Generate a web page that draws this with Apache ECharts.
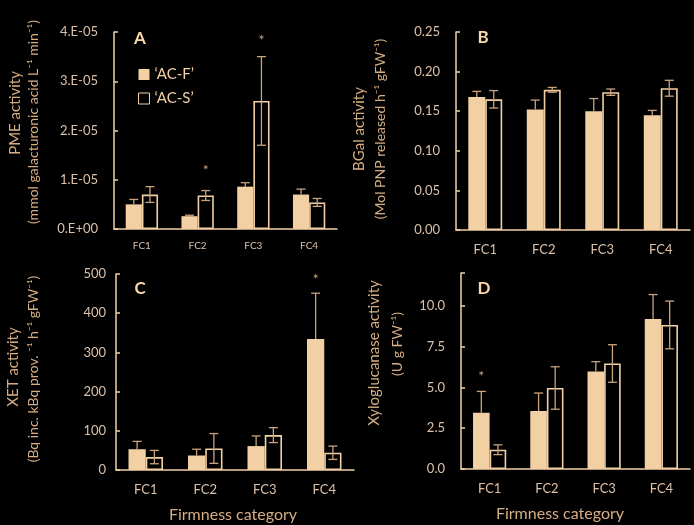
<!DOCTYPE html>
<html>
<head>
<meta charset="utf-8">
<script src="https://cdn.jsdelivr.net/npm/echarts@6/dist/echarts.min.js"></script>
<style>
html,body{margin:0;padding:0;background:#000;}
#c{width:694px;height:525px;}
</style>
</head>
<body>
<div id="c"></div>
<script>
// ---------- data ----------
const categories = ['FC1', 'FC2', 'FC3', 'FC4'];
const seriesNames = ['\u2018AC-F\u2019', '\u2018AC-S\u2019'];

// A: PME activity
const pmeF = [5.0e-6, 2.6e-6, 8.6e-6, 7.0e-6];
const pmeFErr = [1.0e-6, 0.2e-6, 0.8e-6, 1.1e-6];
const pmeS = [7.0e-6, 6.8e-6, 2.6e-5, 5.4e-6];
const pmeSErr = [1.6e-6, 1.0e-6, 0.9e-5, 0.8e-6];
const pmeFStar = [null, null, null, null];
const pmeSStar = [null, 1.19e-5, 3.82e-5, null];

// B: BGal activity
const bgalF = [0.168, 0.152, 0.150, 0.145];
const bgalFErr = [0.007, 0.012, 0.016, 0.006];
const bgalS = [0.165, 0.177, 0.174, 0.179];
const bgalSErr = [0.011, 0.003, 0.004, 0.010];
const bgalFStar = [null, null, null, null];
const bgalSStar = [null, null, null, null];

// C: XET activity
const xetF = [53, 37, 61, 334];
const xetFErr = [20, 16, 26, 117];
const xetS = [33, 55, 89, 44];
const xetSErr = [17, 38, 19, 17];
const xetFStar = [null, null, null, 487];
const xetSStar = [null, null, null, null];

// D: Xyloglucanase activity
const xgF = [3.45, 3.55, 5.97, 9.18];
const xgFErr = [1.3, 1.1, 0.6, 1.5];
const xgS = [1.18, 4.96, 6.46, 8.82];
const xgSErr = [0.3, 1.3, 1.15, 1.46];
const xgFStar = [5.69, null, null, null];
const xgSStar = [null, null, null, null];

// axis ranges
const yRangeA = [0, 4e-5, 1e-5];
const yRangeB = [0, 0.25, 0.05];
const yRangeC = [0, 500, 100];
const yRangeD = [0, 12, 2.5];

// texts
const panelLetters = ['A', 'B', 'C', 'D'];
const yNames = [
  ['PME activity', '(mmol galacturonic acid L\u207B\u00B9 min\u207B\u00B9)'],
  ['BGal activity', '(Mol PNP released h\u207B\u00B9 gFW\u207B\u00B9)'],
  ['XET activity', '(Bq inc. kBq prov. \u207B\u00B9 h\u207B\u00B9 gFW\u207B\u00B9)'],
  ['Xyloglucanase activity', '(U g FW\u207B\u00B9)']
];
const xName = 'Firmness category';

// ---------- styling ----------
const TAN = '#F2D0A4';
const LABEL = '#DCC0A8';
const NAMEC = '#D6AE84';
const ERRC = '#C9A37E';
const FONT = 'Lato, "Open Sans", sans-serif';

const fmtA = v => v === 0 ? '0.E+00' : Math.round(v / 1e-5) + '.E-05';
const fmtB = v => v.toFixed(2);
const fmtC = v => String(Math.round(v));
const fmtD = v => (v > 10.01 ? '' : v.toFixed(1));

const panels = [
  {grid: {left: 114, top: 32, width: 223, height: 197}, yr: yRangeA, fmt: fmtA, xFont: 10, xMargin: 12, yMargin: 16,
   F: pmeF, FE: pmeFErr, FS: pmeFStar, S: pmeS, SE: pmeSErr, SS: pmeSStar},
  {grid: {left: 456, top: 32, width: 234, height: 198}, yr: yRangeB, fmt: fmtB, xFont: 13, xMargin: 13, yMargin: 16,
   F: bgalF, FE: bgalFErr, FS: bgalFStar, S: bgalS, SE: bgalSErr, SS: bgalSStar},
  {grid: {left: 116, top: 274, width: 238, height: 196}, yr: yRangeC, fmt: fmtC, xFont: 13, xMargin: 13, yMargin: 10,
   F: xetF, FE: xetFErr, FS: xetFStar, S: xetS, SE: xetSErr, SS: xetSStar},
  {grid: {left: 461, top: 273, width: 229, height: 196}, yr: yRangeD, fmt: fmtD, xFont: 13, xMargin: 13, yMargin: 16,
   F: xgF, FE: xgFErr, FS: xgFStar, S: xgS, SE: xgSErr, SS: xgSStar}
];

const BAR_FRAC = 0.58; // fraction of category occupied by both bars

function makeErr(sign, full) {
  return function (params, api) {
    const cat = api.value(0), mean = api.value(1), err = api.value(2), star = api.value(3);
    const c = api.coord([cat, mean]);
    const t = api.coord([cat, mean + err]);
    const b = api.coord([cat, mean - err]);
    const bw = api.size([1, 0])[0] * BAR_FRAC / 2;
    const x = c[0] + sign * bw / 2;
    const cap = 4.5;
    const st = {stroke: ERRC, lineWidth: 1.3};
    const ch = [];
    if (err > 0) {
      ch.push({type: 'line', shape: {x1: x, y1: t[1], x2: x, y2: full ? b[1] : c[1]}, style: st});
      ch.push({type: 'line', shape: {x1: x - cap, y1: t[1], x2: x + cap, y2: t[1]}, style: st});
      if (full) ch.push({type: 'line', shape: {x1: x - cap, y1: b[1], x2: x + cap, y2: b[1]}, style: st});
    }
    if (star != null && isFinite(star)) {
      const s = api.coord([cat, star]);
      ch.push({type: 'text', x: x, y: s[1], style: {text: '*', fill: ERRC, font: '14px ' + FONT, align: 'center', verticalAlign: 'middle'}});
    }
    return {type: 'group', children: ch};
  };
}

const grids = [], xAxes = [], yAxes = [], series = [];
panels.forEach((p, i) => {
  grids.push(p.grid);
  xAxes.push({
    type: 'category', gridIndex: i, data: categories,
    axisLine: {lineStyle: {color: TAN, width: 1.5}},
    axisTick: {show: false},
    axisLabel: {color: LABEL, fontSize: p.xFont, fontFamily: FONT, margin: p.xMargin}
  });
  yAxes.push({
    type: 'value', gridIndex: i, min: p.yr[0], max: p.yr[1], interval: p.yr[2],
    axisLine: {show: true, lineStyle: {color: TAN, width: 1.5}},
    axisTick: {show: true, inside: true, length: 4, lineStyle: {color: TAN, width: 1.5}},
    splitLine: {show: false},
    axisLabel: {color: LABEL, fontSize: 13, fontFamily: FONT, margin: p.yMargin, formatter: p.fmt, showMaxLabel: true}
  });
  series.push({
    type: 'bar', name: seriesNames[0], xAxisIndex: i, yAxisIndex: i, data: p.F,
    barGap: '0%', barCategoryGap: '42%',
    itemStyle: {color: TAN}, z: 2, animation: false
  });
  series.push({
    type: 'bar', name: seriesNames[1], xAxisIndex: i, yAxisIndex: i, data: p.S,
    barGap: '0%', barCategoryGap: '42%',
    itemStyle: {color: '#000', borderColor: TAN, borderWidth: 1.6}, z: 2, animation: false
  });
  series.push({
    type: 'custom', xAxisIndex: i, yAxisIndex: i, z: 5, animation: false,
    renderItem: makeErr(-1, false),
    encode: {x: 0, y: 1},
    data: categories.map((c, k) => [k, p.F[k], p.FE[k], p.FS[k] == null ? NaN : p.FS[k]])
  });
  series.push({
    type: 'custom', xAxisIndex: i, yAxisIndex: i, z: 5, animation: false,
    renderItem: makeErr(1, true),
    encode: {x: 0, y: 1},
    data: categories.map((c, k) => [k, p.S[k], p.SE[k], p.SS[k] == null ? NaN : p.SS[k]])
  });
});

// text positions (layout only)
const letterPos = [[140, 39], [483, 38], [140, 289], [484, 289]];
const namePos = [
  [[15, 113], [33, 122]],
  [[359, 129], [380, 129]],
  [[13, 367], [33, 369]],
  [[374, 353], [397, 344]]
];
const xNamePos = [[233, 515], [560, 514]];

const graphics = [];
letterPos.forEach((pos, i) => {
  graphics.push({type: 'text', x: pos[0], y: pos[1],
    style: {text: panelLetters[i], fill: '#F7D8A8', font: 'bold 17px ' + FONT, align: 'center', verticalAlign: 'middle'}});
});
namePos.forEach((pp, i) => {
  pp.forEach((pos, j) => {
    graphics.push({type: 'text', x: pos[0], y: pos[1], rotation: Math.PI / 2,
      style: {text: yNames[i][j], fill: NAMEC, font: (j === 0 ? '15px ' : '14px ') + FONT, align: 'center', verticalAlign: 'middle'}});
  });
});
xNamePos.forEach(pos => {
  graphics.push({type: 'text', x: pos[0], y: pos[1],
    style: {text: xName, fill: NAMEC, font: '16px ' + FONT, align: 'center', verticalAlign: 'middle'}});
});

const chart = echarts.init(document.getElementById('c'), null, {renderer: 'canvas'});
chart.setOption({
  backgroundColor: '#000',
  animation: false,
  grid: grids,
  xAxis: xAxes,
  yAxis: yAxes,
  legend: {
    data: [
      {name: seriesNames[0]},
      {name: seriesNames[1], itemStyle: {color: '#000', borderColor: TAN, borderWidth: 1}}
    ],
    orient: 'vertical', left: 133, top: 62,
    itemWidth: 11, itemHeight: 11, itemGap: 9, icon: 'rect',
    textStyle: {color: TAN, fontSize: 15, fontFamily: FONT},
    selectedMode: false
  },
  graphic: graphics,
  series: series
});
</script>
</body>
</html>
